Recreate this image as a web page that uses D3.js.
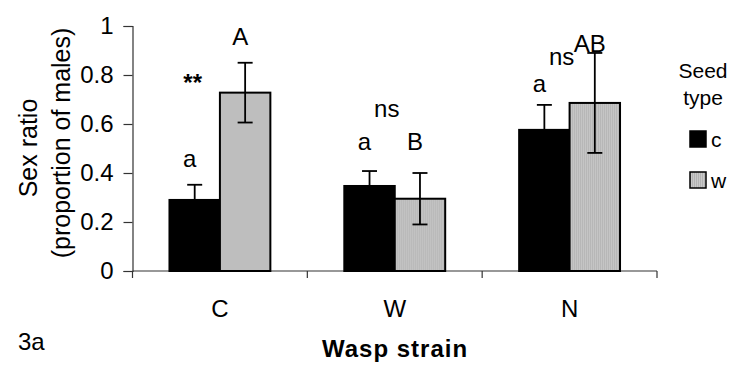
<!DOCTYPE html>
<html><head><meta charset="utf-8">
<script src="https://cdn.jsdelivr.net/npm/d3@7"></script>
<style>
html,body{margin:0;padding:0;background:#fff;}
svg{display:block;font-family:"Liberation Sans",Arial,sans-serif;}
</style></head>
<body>
<svg id="chart" width="733" height="365"></svg>
<script>
// ---- data ----
const categories = ["C", "W", "N"];
const seriesKeys = ["c", "w"];
const cValues = [0.29, 0.347, 0.576];
const wValues = [0.728, 0.295, 0.686];
const cErrors = [0.062, 0.061, 0.102];
const wErrors = [0.122, 0.105, 0.204];
const cLetters = ["a", "a", "a"];
const wLetters = ["A", "B", "AB"];
const sigLabels = ["**", "ns", "ns"];
const sigAnchor = ["c", "mid", "mid"];
const cLetterY = [0.424, 0.494, 0.731];
const wLetterY = [0.922, 0.494, 0.894];
const sigY = [0.735, 0.629, 0.841];
const yTicks = [0, 0.2, 0.4, 0.6, 0.8, 1];
const legendTitle = ["Seed", "type"];
const xTitle = "Wasp strain";
const yTitle = ["Sex ratio", "(proportion of males)"];
const panelLabel = "3a";

// ---- layout ----
const svg = d3.select("#chart");
const mLeft = 132.5, mRight = 657, mTop = 26, mBottom = 271;
const FS = 24;
const AX = "#333";

const y = d3.scaleLinear().domain([0, 1]).range([mBottom, mTop]);
const x0 = d3.scaleBand().domain(categories).range([mLeft, mRight]).paddingInner(0).paddingOuter(0);
const x1 = d3.scaleBand().domain(seriesKeys).range([0, x0.bandwidth()]).paddingInner(0).paddingOuter(0.733);

const defs = svg.append("defs");
const pat = defs.append("pattern").attr("id", "stripe").attr("patternUnits", "userSpaceOnUse")
  .attr("width", 2).attr("height", 4);
pat.append("rect").attr("width", 2).attr("height", 4).attr("fill", "#c9c9c9");
pat.append("rect").attr("width", 1).attr("height", 4).attr("fill", "#b3b3b3");

const rows = categories.map((cat, i) => ({
  cat,
  c: {v: cValues[i], e: cErrors[i], letter: cLetters[i], ly: cLetterY[i]},
  w: {v: wValues[i], e: wErrors[i], letter: wLetters[i], ly: wLetterY[i]},
  sig: sigLabels[i], sigA: sigAnchor[i], sigY: sigY[i]
}));

// axes
const yAxis = d3.axisLeft(y).tickValues(yTicks)
  .tickFormat(d => (d === 0 || d === 1) ? d3.format("d")(d) : d3.format(".1f")(d))
  .tickSize(9).tickPadding(10);
const gy = svg.append("g").attr("transform", `translate(${mLeft},0)`).call(yAxis);
gy.select(".domain").attr("stroke", AX).attr("stroke-width", 1.2);
gy.selectAll(".tick line").attr("stroke", AX).attr("stroke-width", 1.2);
gy.selectAll(".tick text").attr("font-size", FS).attr("fill", "#000")
  .attr("font-family", "Liberation Sans, Arial, sans-serif");

const xAxis = d3.axisBottom(x0).tickSize(0).tickPadding(29);
const gx = svg.append("g").attr("transform", `translate(0,${mBottom})`).call(xAxis);
gx.select(".domain").remove();
gx.selectAll(".tick text").attr("font-size", FS).attr("fill", "#000")
  .attr("font-family", "Liberation Sans, Arial, sans-serif");
// category boundary ticks
const bounds = categories.map(c => x0(c)).concat([x0(categories[categories.length - 1]) + x0.bandwidth()]);
svg.append("line").attr("x1", mLeft).attr("x2", mRight).attr("y1", mBottom).attr("y2", mBottom)
  .attr("stroke", AX).attr("stroke-width", 1.2);
svg.selectAll(".btick").data(bounds).join("line").attr("class", "btick")
  .attr("x1", d => d).attr("x2", d => d).attr("y1", mBottom).attr("y2", mBottom + 7)
  .attr("stroke", AX).attr("stroke-width", 1.2);

// bars
const groups = svg.selectAll(".grp").data(rows).join("g").attr("class", "grp")
  .attr("transform", d => `translate(${x0(d.cat)},0)`);

seriesKeys.forEach(k => {
  groups.append("rect")
    .attr("x", x1(k)).attr("width", x1.bandwidth())
    .attr("y", d => y(d[k].v)).attr("height", d => y(0) - y(d[k].v))
    .attr("fill", k === "c" ? "#000" : "url(#stripe)")
    .attr("stroke", "#000").attr("stroke-width", 2);
});

// error bars
const cap = 7.5;
seriesKeys.forEach(k => {
  const cx = x1(k) + x1.bandwidth() / 2;
  const eb = groups.append("g").attr("stroke", "#000").attr("stroke-width", 1.8);
  eb.append("line").attr("x1", cx).attr("x2", cx)
    .attr("y1", d => y(d[k].v + d[k].e)).attr("y2", d => y(d[k].v - d[k].e));
  eb.append("line").attr("x1", cx - cap).attr("x2", cx + cap)
    .attr("y1", d => y(d[k].v + d[k].e)).attr("y2", d => y(d[k].v + d[k].e));
  eb.append("line").attr("x1", cx - cap).attr("x2", cx + cap)
    .attr("y1", d => y(d[k].v - d[k].e)).attr("y2", d => y(d[k].v - d[k].e));
});

// letters
seriesKeys.forEach(k => {
  const cx = x1(k) + x1.bandwidth() / 2 - 5;
  groups.append("text").attr("x", cx).attr("y", d => y(d[k].ly))
    .attr("text-anchor", "middle").attr("font-size", FS).text(d => d[k].letter);
});
groups.append("text")
  .attr("x", d => d.sigA === "mid" ? x0.bandwidth() / 2 - 8 : x1("c") + x1.bandwidth() / 2 - 2)
  .attr("y", d => y(d.sigY))
  .attr("text-anchor", "middle").attr("font-size", FS)
  .attr("font-weight", d => d.sig === "**" ? "bold" : "normal")
  .text(d => d.sig);

// y title
svg.append("text").attr("transform", "translate(37,148) rotate(-90)").attr("text-anchor", "middle")
  .attr("font-size", 25).text(yTitle[0]);
svg.append("text").attr("transform", "translate(70,143) rotate(-90)").attr("text-anchor", "middle")
  .attr("font-size", 25).text(yTitle[1]);

// x title + panel label
svg.append("text").attr("x", 395).attr("y", 357).attr("text-anchor", "middle")
  .attr("font-size", FS).attr("font-weight", "bold").attr("letter-spacing", 1).text(xTitle);
svg.append("text").attr("x", 18).attr("y", 350).attr("font-size", FS).text(panelLabel);

// legend
const lg = svg.append("g");
lg.append("text").attr("x", 703).attr("y", 78).attr("text-anchor", "middle").attr("font-size", 21).text(legendTitle[0]);
lg.append("text").attr("x", 703).attr("y", 105).attr("text-anchor", "middle").attr("font-size", 21).text(legendTitle[1]);
const legY = [131, 172];
seriesKeys.forEach((k, i) => {
  lg.append("rect").attr("x", 690).attr("y", legY[i]).attr("width", 16).attr("height", 16)
    .attr("fill", k === "c" ? "#000" : "url(#stripe)").attr("stroke", "#000").attr("stroke-width", 1.5);
  lg.append("text").attr("x", 711).attr("y", legY[i] + 16).attr("font-size", 21).text(k);
});
</script>
</body></html>
